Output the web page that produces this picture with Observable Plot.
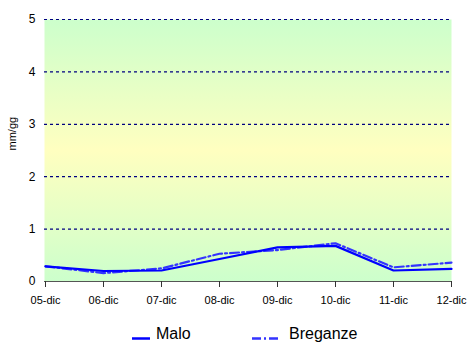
<!DOCTYPE html>
<html><head><meta charset="utf-8">
<script src="https://cdn.jsdelivr.net/npm/d3@7"></script>
<script src="https://cdn.jsdelivr.net/npm/@observablehq/plot@0.6"></script>
<style>
body{margin:0;background:#fff;font-family:"Liberation Sans",Arial,sans-serif;}
#chart svg{display:block;}
#legend{display:block;}
</style></head><body>
<div id="chart"></div>
<svg id="legend" width="467" height="27" font-family="Liberation Sans, Arial, sans-serif" font-size="16">
  <line x1="132" x2="150" y1="22.5" y2="22.5" stroke="#0000ff" stroke-width="2.5"/>
  <text x="156" y="23" fill="#000">Malo</text>
  <line x1="252" x2="280" y1="22.5" y2="22.5" stroke="#3333ff" stroke-width="2.5" stroke-dasharray="9,3,2,3"/>
  <text x="289" y="23" fill="#000">Breganze</text>
</svg>
<script>
const days = ["05-dic","06-dic","07-dic","08-dic","09-dic","10-dic","11-dic","12-dic"];
const malo = [0.29,0.20,0.21,0.43,0.65,0.68,0.21,0.24];
const breganze = [0.29,0.16,0.25,0.53,0.60,0.73,0.27,0.36];
const yTicks = [0,1,2,3,4,5];
const gridTicks = [1,2,3,4,5];

const rowsMalo = days.map((d,i)=>({day:d, v:malo[i]}));
const rowsBreg = days.map((d,i)=>({day:d, v:breganze[i]}));

const plot = Plot.plot({
  width:467, height:316,
  marginLeft:44, marginRight:16, marginTop:19, marginBottom:35,
  style:{fontFamily:"Liberation Sans, Arial, sans-serif", fontSize:"11px", color:"#000", background:"transparent"},
  x:{type:"point", domain:days, padding:0, label:null},
  y:{domain:[0,5], label:null},
  marks:[
    Plot.frame({fill:"url(#bgGrad)", stroke:"none"}),
    Plot.ruleY(gridTicks, {stroke:"#000080", strokeWidth:1.2, strokeDasharray:"3,3"}),
    Plot.ruleY([0], {stroke:"#555", strokeWidth:1.2}),
    Plot.axisX({ticks:days, tickSize:6, tickPadding:9, stroke:"#333", fontSize:11}),
    Plot.axisY({ticks:yTicks, tickFormat:d3.format("d"), tickSize:0, tickPadding:9, fontSize:12}),
    Plot.text(["mm/gg"], {frameAnchor:"left", dx:-32, rotate:-90, fontSize:11, fill:"#000"}),
    Plot.line(rowsBreg, {x:"day", y:"v", stroke:"#3333ff", strokeWidth:2.2, strokeDasharray:"9,3,2,3"}),
    Plot.line(rowsMalo, {x:"day", y:"v", stroke:"#0000ff", strokeWidth:2.2})
  ]
});
const ns = "http://www.w3.org/2000/svg";
const defs = document.createElementNS(ns,"defs");
const lg = document.createElementNS(ns,"linearGradient");
lg.setAttribute("id","bgGrad"); lg.setAttribute("x1","0"); lg.setAttribute("y1","0"); lg.setAttribute("x2","0"); lg.setAttribute("y2","1");
[["0%","#ccffcc"],["50%","#ffffc0"],["100%","#ccffcc"]].forEach(([o,c])=>{
  const s=document.createElementNS(ns,"stop"); s.setAttribute("offset",o); s.setAttribute("stop-color",c); lg.appendChild(s);
});
defs.appendChild(lg);
plot.insertBefore(defs, plot.firstChild);
document.getElementById("chart").appendChild(plot);
</script>
</body></html>
